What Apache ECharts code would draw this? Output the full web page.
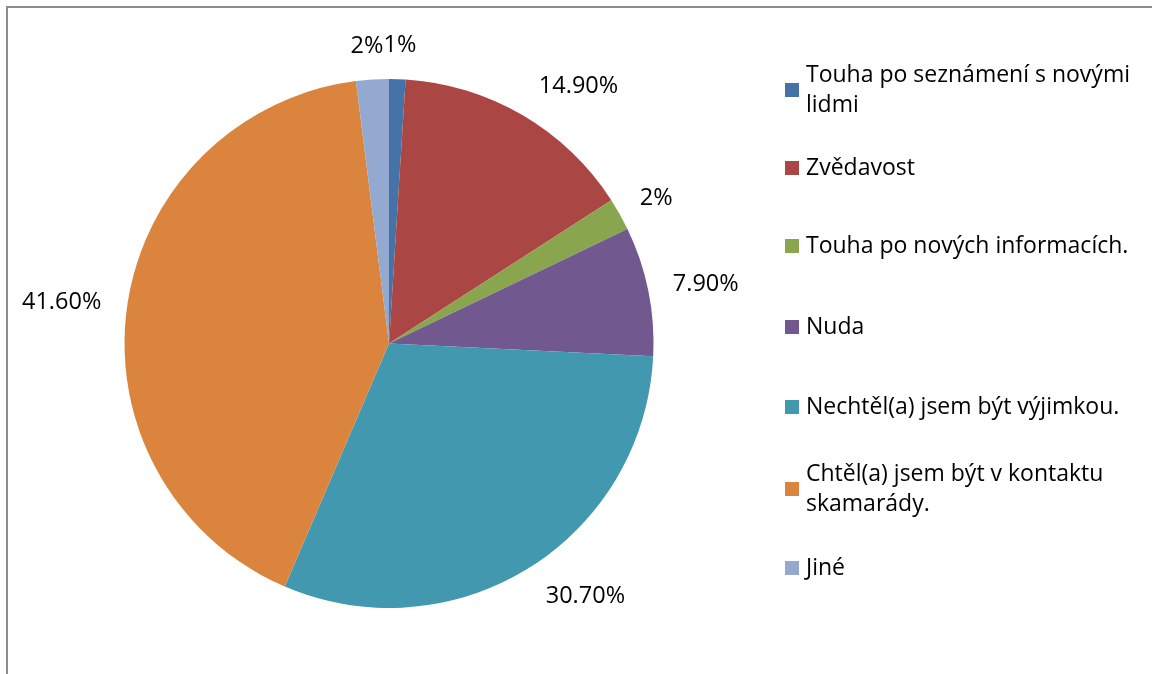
<!DOCTYPE html>
<html>

<head>
    <title>Pie - důvody</title>
    <meta charset="utf-8" />
    <script src="https://cdn.jsdelivr.net/npm/echarts@6/dist/echarts.min.js"></script>
    <style type="text/css">
        html,
        body {
            width: 100%;
            height: 100%;
            margin: 0;
            background: #fff;
        }

        #main {
            position: absolute;
            left: 0;
            top: 0;
            width: 1152px;
            height: 674px;
        }

        #frame {
            position: absolute;
            left: 6px;
            top: 6px;
            width: 1200px;
            height: 700px;
            border-left: 2px solid #8c8c8c;
            border-top: 2px solid #8c8c8c;
            pointer-events: none;
        }
    </style>
</head>

<body>
    <div id="main"></div>
    <div id="frame"></div>
    <script>
        var names = [
            'Touha po seznámení s novými lidmi',
            'Zvědavost',
            'Touha po nových informacích.',
            'Nuda',
            'Nechtěl(a) jsem být výjimkou.',
            'Chtěl(a) jsem být v kontaktu skamarády.',
            'Jiné'
        ];
        // legend text as it wraps in the picture
        var legendText = [
            'Touha po seznámení s novými\nlidmi',
            'Zvědavost',
            'Touha po nových informacích.',
            'Nuda',
            'Nechtěl(a) jsem být výjimkou.',
            'Chtěl(a) jsem být v kontaktu\nskamarády.',
            'Jiné'
        ];
        var values = [1, 14.9, 2, 7.9, 30.7, 41.6, 2];
        var colors = ['#4572A7', '#AA4643', '#89A54E', '#71588F', '#4198AF', '#DB843D', '#93A9CF'];

        var font = '"Open Sans", Lato, sans-serif';
        var lineH = 30;
        // vertical centre of each legend marker
        var legendCenters = [90, 168, 246, 327, 407, 489, 568];

        var legends = names.map(function (n, i) {
            var lines = legendText[i].split('\n').length;
            var boxH = (2 * lines - 1) * lineH;
            return {
                show: true,
                orient: 'vertical',
                left: 785,
                top: legendCenters[i] - boxH / 2,
                padding: 0,
                itemWidth: 14,
                itemHeight: 14,
                itemGap: 6,
                icon: 'rect',
                selectedMode: false,
                data: [{
                    name: n,
                    textStyle: {
                        padding: [(lines - 1) * lineH, 0, 0, 2]
                    }
                }],
                formatter: function () {
                    return legendText[i];
                },
                textStyle: {
                    fontFamily: font,
                    fontSize: 23,
                    lineHeight: lineH,
                    color: '#000'
                }
            };
        });

        var gap = 20;

        var chart = echarts.init(document.getElementById('main'), null, { renderer: 'canvas' });
        chart.setOption({
            animation: false,
            color: colors,
            legend: legends,
            series: [{
                type: 'pie',
                center: [389, 343.5],
                radius: 264.5,
                startAngle: 90,
                clockwise: true,
                avoidLabelOverlap: false,
                itemStyle: { borderWidth: 0 },
                label: {
                    show: true,
                    position: 'outside',
                    fontFamily: font,
                    fontSize: 23.5,
                    lineHeight: 27,
                    color: '#000',
                    formatter: function (p) {
                        var v = p.value;
                        return (Number.isInteger(v) ? v : v.toFixed(2)) + '%';
                    }
                },
                labelLine: {
                    show: true,
                    length: 20,
                    length2: 0,
                    lineStyle: { opacity: 0 }
                },
                labelLayout: function (p) {
                    var pts = p.labelLinePoints;
                    if (!pts) {
                        return {};
                    }
                    var a = pts[0], b = pts[1];
                    var dx = b[0] - a[0], dy = b[1] - a[1];
                    var len = Math.sqrt(dx * dx + dy * dy) || 1;
                    dx /= len;
                    dy /= len;
                    var w = p.labelRect.width, h = p.labelRect.height;
                    var fx = Math.max(-1.15, Math.min(1.15, dx * 4));
                    return {
                        x: a[0] + dx * gap + fx * w / 2,
                        y: a[1] + dy * gap + dy * h / 2,
                        align: 'center',
                        verticalAlign: 'middle'
                    };
                },
                emphasis: { disabled: true },
                data: names.map(function (n, i) {
                    return { name: n, value: values[i] };
                })
            }]
        });
    </script>
</body>

</html>
